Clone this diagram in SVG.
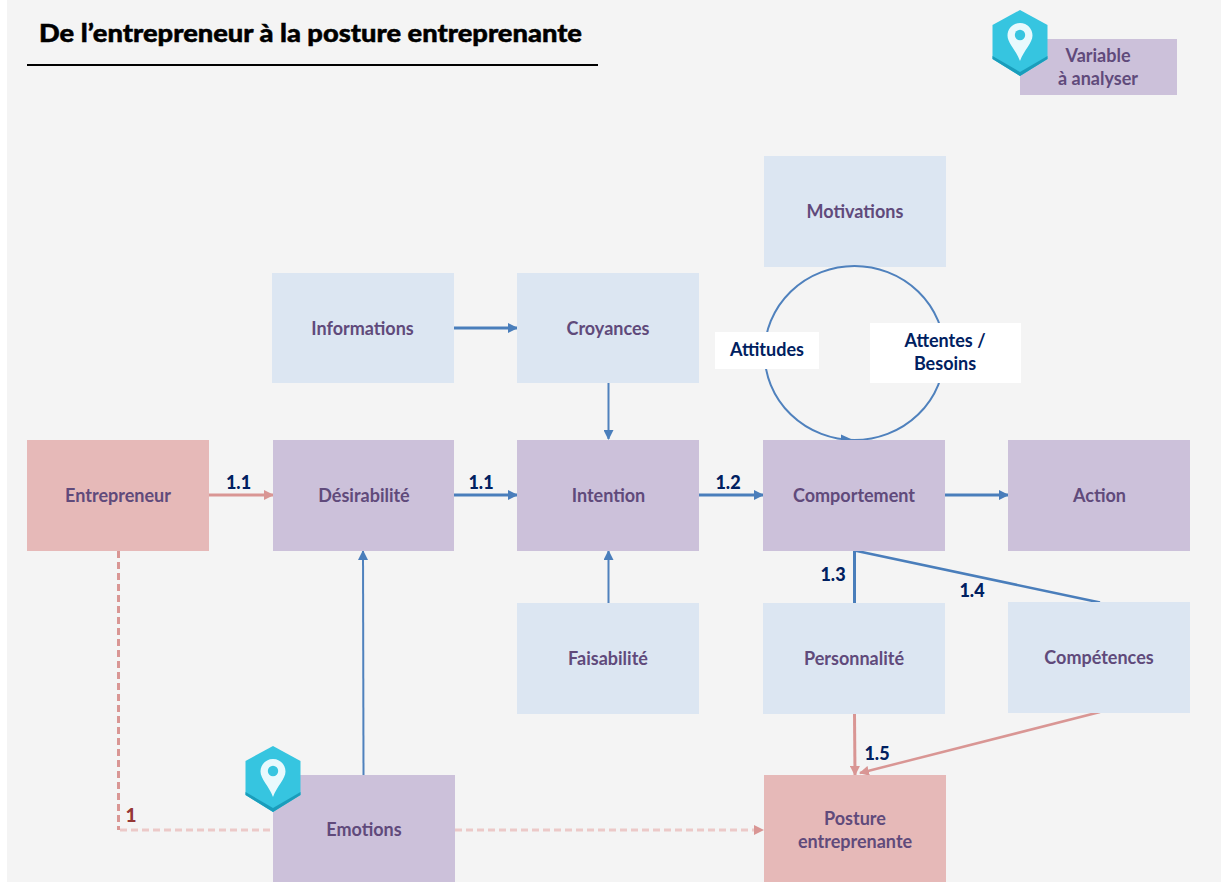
<svg xmlns="http://www.w3.org/2000/svg" width="1221" height="882" viewBox="0 0 1221 882">
<style>
text{font-family:"Lato","Open Sans","Liberation Sans",sans-serif;font-weight:700;text-anchor:middle}
.t{font-size:18px;fill:#604a7b}
.n{font-size:18px;font-weight:900;fill:#002060}
.w{font-size:18px;fill:#002060}
.blue{fill:#dce6f2}.pur{fill:#ccc1da}.pink{fill:#e6b9b8}
.b{fill:none;stroke:#4f81bd;stroke-width:2}
.b3{fill:none;stroke:#4a7ebb;stroke-width:3}
.r{fill:none;stroke:#d99694;stroke-width:3}
.r2{fill:none;stroke:#d99694;stroke-width:2.5}
.d1{fill:none;stroke:#d99694;stroke-width:3;stroke-dasharray:7 4}
.d2{fill:none;stroke:#ecc9c8;stroke-width:3;stroke-dasharray:7 4}
</style>
<defs>
<marker id="ab2" markerWidth="10" markerHeight="10" refX="9" refY="5" orient="auto" markerUnits="userSpaceOnUse" viewBox="0 0 10 10"><path d="M0 0L10 5L0 10Z" fill="#4a7ebb"/></marker>
<marker id="ar" markerWidth="10" markerHeight="10" refX="9" refY="5" orient="auto" markerUnits="userSpaceOnUse" viewBox="0 0 10 10"><path d="M0 0L10 5L0 10Z" fill="#d99694"/></marker>
<g id="pin">
<path d="M0 -33L27.500 -18V16L0 33L-27.500 16V-18Z" fill="#36c5e0"/>
<path d="M-27.500 13L0 29L27.500 13V16L0 33L-27.500 16Z" fill="#1a9dbb"/>
<path d="M0 -20C-7.500 -20 -12.500 -14 -12.500 -7.500C-12.500 0 -4 7 0 18C4 7 12.500 0 12.500 -7.500C12.500 -14 7.500 -20 0 -20Z" fill="#e8f9fd"/>
<circle cx="0" cy="-8" r="5.200" fill="#36c5e0"/>
</g>
</defs>
<rect width="1221" height="882" fill="#ffffff"/>
<rect x="7" y="0" width="1214" height="882" fill="#f4f4f4"/>
<g id="title">
<text x="310.500" y="42" style="font-size:25.500px;font-weight:900;fill:#000;stroke:#000;stroke-width:0.5" textLength="543" lengthAdjust="spacingAndGlyphs">De l’entrepreneur à la posture entreprenante</text>
<rect x="27" y="64" width="571" height="2" fill="#000"/>
</g>
<g id="motivations"><rect x="764" y="156" width="182" height="111" class="blue"/><text x="855" y="218" class="t">Motivations</text></g>
<g id="connectors">
<ellipse cx="854.500" cy="353" rx="90" ry="87" class="b"/>
<path d="M841 434.500L851 439L841 443.500Z" fill="#4a7ebb"/>
<path d="M454 328H517" class="b3" marker-end="url(#ab2)"/>
<path d="M608.500 383V439" class="b" marker-end="url(#ab2)"/>
<path d="M209 495H273" class="r" marker-end="url(#ar)"/>
<path d="M454 495H517" class="b3" marker-end="url(#ab2)"/>
<path d="M699 495H763" class="b3" marker-end="url(#ab2)"/>
<path d="M945 495H1008" class="b3" marker-end="url(#ab2)"/>
<path d="M608.500 603V551" class="b" marker-end="url(#ab2)"/>
<path d="M363.500 775L363 551" class="b" marker-end="url(#ab2)"/>
<path d="M854.500 603V550.500" fill="none" stroke="#4a7ebb" stroke-width="3"/>
<path d="M854.500 550.500L1100 602.500" fill="none" stroke="#4a7ebb" stroke-width="2.500"/>
<path d="M854.500 714L855 775" class="r" marker-end="url(#ar)"/>
<path d="M1100 712L860 773" class="r2" marker-end="url(#ar)"/>
<path d="M118.500 551V830" class="d1"/>
<path d="M120 830H273" class="d2"/>
<path d="M455 830H755" class="d2"/>
<path d="M754 825L764 830L754 835Z" fill="#d99694"/>
</g>
<g id="informations"><rect x="272" y="273" width="182" height="110" class="blue"/><text x="362.500" y="335" class="t">Informations</text></g>
<g id="croyances"><rect x="517" y="273" width="182" height="110" class="blue"/><text x="608" y="335" class="t">Croyances</text></g>
<g id="attitudes"><rect x="715" y="332" width="104" height="37" fill="#fff"/><text x="767" y="356" class="w">Attitudes</text></g>
<g id="attentes"><rect x="870" y="323" width="151" height="60" fill="#fff"/><text x="945" y="347" class="w">Attentes /</text><text x="945" y="370" class="w">Besoins</text></g>
<g id="entrepreneur"><rect x="27" y="440" width="182" height="111" class="pink"/><text x="118" y="502" class="t">Entrepreneur</text></g>
<g id="desirabilite"><rect x="273" y="440" width="181" height="111" class="pur"/><text x="364" y="502" class="t">Désirabilité</text></g>
<g id="intention"><rect x="517" y="440" width="182" height="111" class="pur"/><text x="608.500" y="502" class="t">Intention</text></g>
<g id="comportement"><rect x="763" y="440" width="182" height="111" class="pur"/><text x="854" y="502" class="t">Comportement</text></g>
<g id="action"><rect x="1008" y="440" width="182" height="111" class="pur"/><text x="1099.500" y="502" class="t">Action</text></g>
<g id="faisabilite"><rect x="517" y="603" width="182" height="111" class="blue"/><text x="608" y="665" class="t">Faisabilité</text></g>
<g id="personnalite"><rect x="763" y="603" width="182" height="111" class="blue"/><text x="854" y="665" class="t">Personnalité</text></g>
<g id="competences"><rect x="1008" y="602" width="182" height="111" class="blue"/><text x="1099" y="664" class="t">Compétences</text></g>
<g id="emotions"><rect x="273" y="775" width="182" height="107" class="pur"/><use href="#pin" x="273" y="779"/><text x="364" y="836" class="t">Emotions</text></g>
<g id="posture"><rect x="764" y="775" width="182" height="107" class="pink"/><text x="855" y="825" class="t">Posture</text><text x="855" y="848" class="t">entreprenante</text></g>
<g id="legend"><rect x="1020" y="39" width="157" height="56" class="pur"/><use href="#pin" x="1020" y="43"/><text x="1098" y="62" class="t">Variable</text><text x="1098" y="85" class="t">à analyser</text></g>
<g id="labels">
<text x="238.500" y="489" class="n">1.1</text>
<text x="481" y="489" class="n">1.1</text>
<text x="728" y="489" class="n">1.2</text>
<text x="833" y="581" class="n">1.3</text>
<text x="972" y="597" class="n">1.4</text>
<text x="877" y="760" class="n">1.5</text>
<text x="131" y="822" style="font-size:19px;font-weight:900;fill:#953735">1</text>
</g>
</svg>
